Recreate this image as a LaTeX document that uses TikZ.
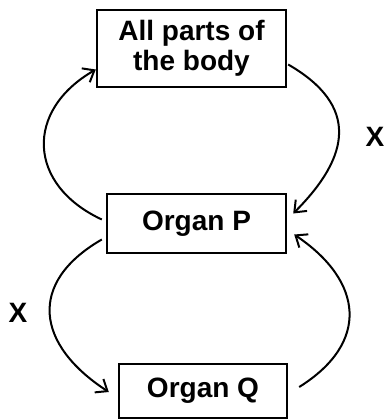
\documentclass[tikz,border=0pt]{standalone}
\usepackage{fontspec}
\setmainfont{Liberation Sans}
\usetikzlibrary{arrows.meta,calc}

\begin{document}
\begin{tikzpicture}[
  x=0.5pt,
  y=0.5pt,
  box/.style={draw, line width=1.2pt, align=center, inner sep=0pt,
    font=\fontsize{14}{15}\selectfont\bfseries},
  lbl/.style={font=\fontsize{14}{15}\selectfont\bfseries},
  flow/.style={-{Straight Barb[length=5pt,width=8pt]}, line width=1pt}
]
\useasboundingbox (0,0) rectangle (390,419);
\node[box, minimum width=94.5pt, minimum height=38.5pt] (body) at (191.5,370.5) {All parts of\\the body};
\node[box, minimum width=89.5pt, minimum height=29.5pt] (organP) at (196.5,195.5) {Organ P};
\node[box, minimum width=84pt, minimum height=27pt] (organQ) at (203,28) {Organ Q};
\node[lbl] (xr) at (375,282) {X};
\node[lbl] (xl) at (18,106) {X};
\draw[flow] ($(organP.west)+(-4,4)$) to[out=155,in=210,looseness=1.4] ($(body.west)+(0,-21)$);
\draw[flow] ($(body.east)+(1,-16)$) to[out=-30,in=45,looseness=1.4] ($(organP.east)+(6,10)$);
\draw[flow] ($(organP.west)+(-4,-16)$) to[out=210,in=147,looseness=1.45] ($(organQ.west)+(-9,-1)$);
\draw[flow] ($(organQ.east)+(11,4)$) to[out=32,in=-34,looseness=1.4] ($(organP.east)+(7,-11)$);
\end{tikzpicture}
\end{document}
